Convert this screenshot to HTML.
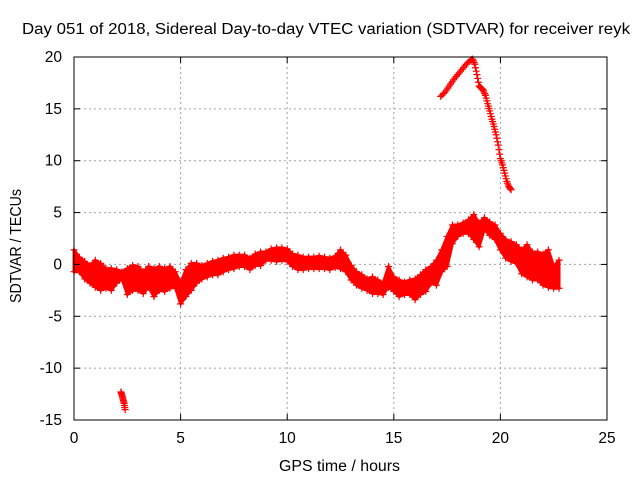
<!DOCTYPE html>
<html><head><meta charset="utf-8"><style>
body{margin:0;background:#fff}
svg{display:block;font-family:"Liberation Sans",sans-serif}
</style></head><body>
<svg id="chart" width="640" height="480" viewBox="0 0 640 480">
<rect width="640" height="480" fill="#fff"/>
<g id="grid"></g>
<g id="series"></g>
<rect x="74" y="57" width="533" height="363" fill="none" stroke="#000" stroke-width="1"/>
<g id="ticks"></g>
<text x="22" y="34" font-size="15.5" textLength="608" lengthAdjust="spacingAndGlyphs">Day 051 of 2018, Sidereal Day-to-day VTEC variation (SDTVAR) for receiver reyk</text>
<text x="279" y="471" font-size="15.5" textLength="121" lengthAdjust="spacingAndGlyphs">GPS time / hours</text>
<text x="0" y="0" font-size="15.5" textLength="114" lengthAdjust="spacingAndGlyphs" transform="translate(21,303) rotate(-90)">SDTVAR / TECUs</text>
</svg>
<script>
const xTicks=[0,5,10,15,20,25];
const yTicks=[-15,-10,-5,0,5,10,15,20];
const bandStart=0, bandStep=0.25;
const bandHi=[1.4,0.7,0.3,-0.1,0.4,0.1,-0.4,-0.4,-0.5,-0.7,-0.4,-0.1,-0.2,-0.7,-0.2,-0.4,-0.2,-0.4,-0.2,-0.7,-1.8,-0.5,0.1,0.1,-0.1,0.1,0.3,0.4,0.6,0.7,0.9,0.9,0.9,0.6,1.0,1.2,1.2,1.5,1.6,1.6,1.5,1.0,0.9,0.7,0.7,0.7,0.8,0.7,0.6,0.8,1.4,0.9,-0.1,-0.7,-1.0,-1.4,-1.2,-1.5,-1.8,-0.2,-1.2,-1.5,-1.7,-1.5,-1.4,-1.0,-0.5,-0.2,0.4,1.4,2.7,3.8,3.8,4.0,4.3,4.8,4.0,4.5,4.1,3.8,3.0,2.4,2.2,1.9,1.4,1.9,1.2,1.2,1.0,1.4,-0.2,0.4];
const bandLo=[-0.7,-0.7,-1.4,-1.8,-2.2,-2.5,-2.3,-2.5,-1.8,-1.4,-2.9,-2.5,-2.5,-2.8,-2.2,-3.1,-2.5,-2.6,-2.3,-2.2,-3.8,-3.1,-2.5,-1.8,-1.4,-1.2,-1.0,-1.0,-0.7,-0.5,-0.4,-0.2,-0.2,-0.5,-0.1,-0.1,0.4,0.4,0.3,0.4,0.3,-0.2,-0.5,-0.5,-0.4,-0.4,-0.4,-0.4,-0.5,-0.3,-0.4,-0.7,-1.5,-2.0,-2.3,-2.5,-2.8,-2.8,-2.9,-2.2,-2.6,-3.1,-2.9,-2.9,-3.4,-2.9,-2.6,-1.8,-2.0,-0.7,-0.2,2.0,2.7,3.0,3.0,2.4,1.7,3.4,2.8,2.4,1.4,0.6,0.3,0.1,-0.9,-1.2,-1.5,-1.5,-2.0,-2.2,-2.3,-2.3];
const arcHours=[17.2,17.4,17.6,17.8,18.0,18.2,18.4,18.6,18.7,18.8,18.9,19.0,19.1,19.2,19.3,19.4,19.5,19.6,19.7,19.8,19.9,20.0,20.1,20.2,20.3,20.4,20.5];
const arcValues=[16.2,16.6,17.2,17.8,18.3,18.8,19.3,19.7,19.8,19.3,18.3,17.2,17.0,16.8,16.3,15.5,14.8,14.0,13.3,12.5,11.5,10.2,9.6,8.8,8.0,7.5,7.2];
const outHours=[2.2,2.25,2.3,2.35,2.4];
const outValues=[-12.3,-12.6,-13.0,-13.4,-14.0];

const NS="http://www.w3.org/2000/svg";
const X0=74,X1=607,Y0=420,Y1=57,XMIN=0,XMAX=25,YMIN=-15,YMAX=20;
function sx(h){return X0+(h-XMIN)/(XMAX-XMIN)*(X1-X0);}
function sy(v){return Y0-(v-YMIN)/(YMAX-YMIN)*(Y0-Y1);}
function mk(tag,attrs,parent){const e=document.createElementNS(NS,tag);for(const k in attrs)e.setAttribute(k,attrs[k]);parent.appendChild(e);return e;}
const grid=document.getElementById('grid'),ticks=document.getElementById('ticks'),ser=document.getElementById('series');
xTicks.forEach(t=>{const x=sx(t);
 if(t>XMIN&&t<XMAX){const g=mk('line',{x1:x,x2:x,y1:Y1,y2:Y0,stroke:'#a0a0a0','stroke-dasharray':'2,3'},grid);
 
 }
 const a=mk('line',{x1:x,x2:x,y1:Y0,y2:Y0-6,stroke:'#000'},ticks);
 
 
 const b=mk('line',{x1:x,x2:x,y1:Y1,y2:Y1+6,stroke:'#000'},ticks);
 
 
 const l=mk('text',{x:x,y:443,'font-size':'15.5','text-anchor':'middle'},ticks);l.textContent=t;
 
 
});
yTicks.forEach(t=>{const y=sy(t);
 if(t>YMIN&&t<YMAX){const g=mk('line',{x1:X0,x2:X1,y1:y,y2:y,stroke:'#a0a0a0','stroke-dasharray':'2,3'},grid);
 
 }
 const a=mk('line',{x1:X0,x2:X0+6,y1:y,y2:y,stroke:'#000'},ticks);
 
 
 const b=mk('line',{x1:X1,x2:X1-6,y1:y,y2:y,stroke:'#000'},ticks);
 
 
 const l=mk('text',{x:62,y:y+5,'font-size':'15.5','text-anchor':'end'},ticks);l.textContent=t;
 
 
});
function plus(h,v,name){const x=sx(h),y=sy(v);
 const p=mk('path',{d:`M${x-3.5},${y}h7M${x},${y-3.5}v7`,stroke:'#f00','stroke-width':'1.2',fill:'none'},ser);
 
 }
let pts=[];
bandHi.forEach((v,i)=>pts.push(sx(bandStart+i*bandStep)+','+sy(v)));
for(let i=bandLo.length-1;i>=0;i--)pts.push(sx(bandStart+i*bandStep)+','+sy(bandLo[i]));
const poly=mk('polygon',{points:pts.join(' '),fill:'#f00',stroke:'#f00','stroke-width':'3','stroke-linejoin':'round'},ser);


bandHi.forEach((v,i)=>{plus(bandStart+i*bandStep,v,'band-point');plus(bandStart+i*bandStep,bandLo[i],'band-point');});
function dense(hs,vs,name,n){for(let i=0;i<hs.length-1;i++){for(let k=0;k<n;k++){const f=k/n;plus(hs[i]+(hs[i+1]-hs[i])*f,vs[i]+(vs[i+1]-vs[i])*f,name);}}plus(hs[hs.length-1],vs[vs.length-1],name);}
dense(arcHours,arcValues,'arc-point',3);
dense(outHours,outValues,'outlier-point',3);
</script>
</body></html>
